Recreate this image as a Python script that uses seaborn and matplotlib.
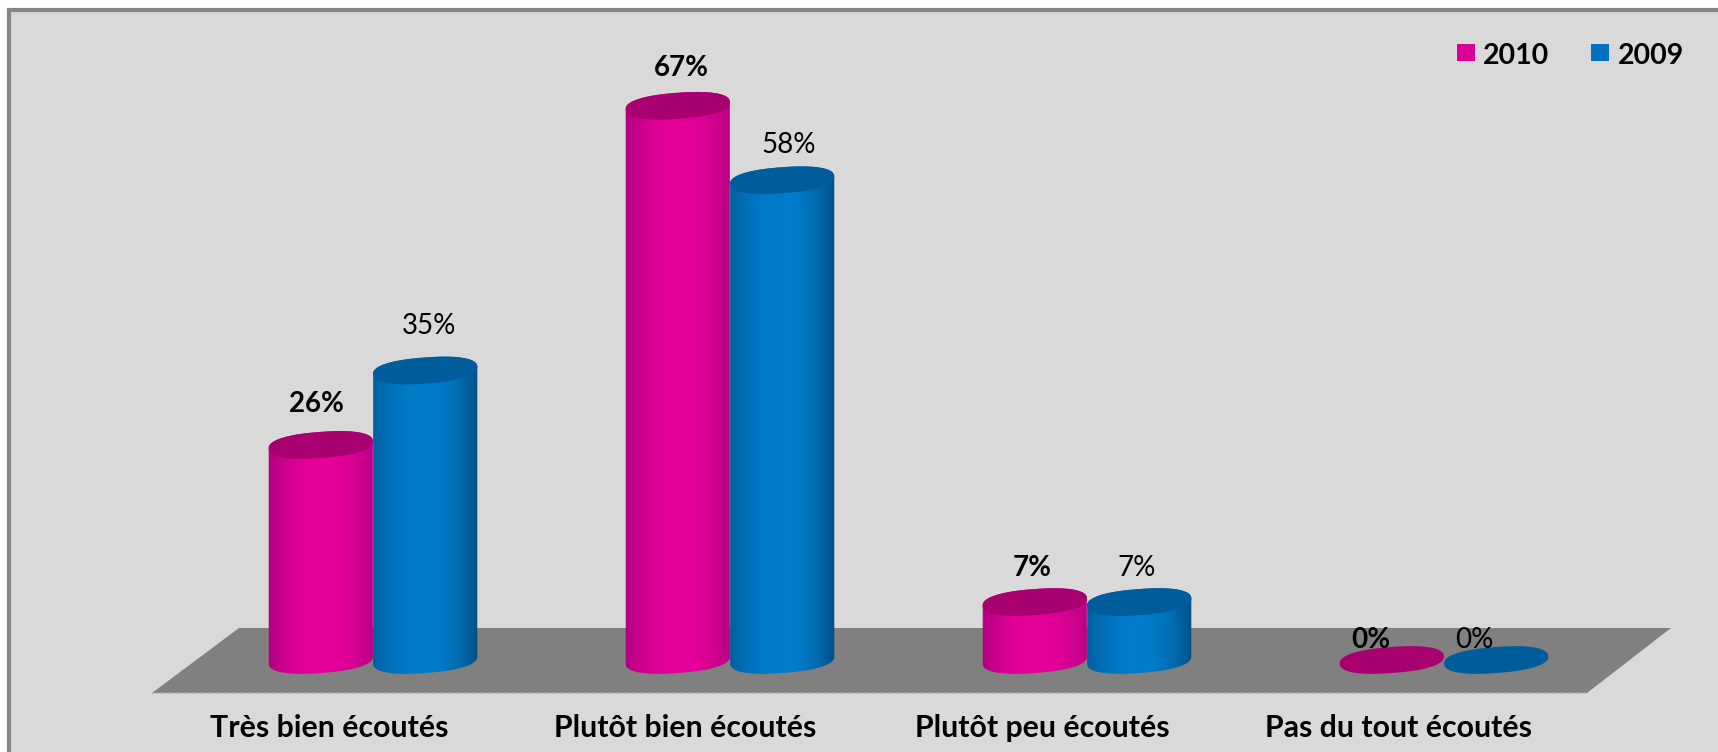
import numpy as np
import pandas as pd
import matplotlib
matplotlib.use("Agg")
import matplotlib.pyplot as plt
from matplotlib.lines import Line2D
from matplotlib.patches import Polygon, Rectangle
from matplotlib.colors import LinearSegmentedColormap
import seaborn as sns

categories = ["Très bien écoutés", "Plutôt bien écoutés", "Plutôt peu écoutés", "Pas du tout écoutés"]
years = ["2010", "2009"]
values_2010 = [26, 67, 7, 0]
values_2009 = [35, 58, 7, 0]

colors = {"2010": "#E6009A", "2009": "#007CCB"}
dark = {"2010": "#A8006F", "2009": "#005C9A"}
edge_left = {"2010": "#B00080", "2009": "#005F9F"}
edge_right = {"2010": "#B80084", "2009": "#004F85"}
legend_colors = {"2010": "#DB0095", "2009": "#0070C0"}
BG = "#D9D9D9"

# label nudges in pixels from the top of each cylinder (dx, dy upward)
nudges_2010 = [(-4, 41), (4, 38), (-3, 34), (-21, 20)]
nudges_2009 = [(4, 44), (6, 35), (-3, 34), (-22, 20)]

W, H = 1718, 752
sns.set_theme(style="white", rc={"figure.facecolor": "white", "axes.facecolor": "none"})
plt.rcParams["font.family"] = ["Lato", "DejaVu Sans"]

df = pd.DataFrame({
    "cat": categories * 2,
    "year": ["2010"] * 4 + ["2009"] * 4,
    "val": values_2010 + values_2009,
})

fig = plt.figure(figsize=(W / 100, H / 100), dpi=100)
fig.add_artist(Rectangle((8.5 / W, -0.05), 1.1, 1.05 - 9.5 / H, transform=fig.transFigure,
                         facecolor=BG, edgecolor="#868686", linewidth=3, zorder=-5))

# axes: category centres every 357 px, 8.27 px per percent
x0, x1 = 194.5, 1622.5
y_base, y_top = 660.0, 81.0
ax = fig.add_axes([x0 / W, 1 - y_base / H, (x1 - x0) / W, (y_base - y_top) / H])
sns.barplot(data=df, x="cat", y="val", hue="year", hue_order=years, order=categories,
            palette=colors, width=0.585, gap=0, ax=ax, legend=False, errorbar=None)
ax.set_xlabel("")
ax.set_ylabel("")
ax.set_yticks([])
ax.set_xticks(range(4))
ax.set_xticklabels([])
ax.tick_params(axis="x", length=0)
sns.despine(ax=ax, left=True, bottom=True)

px_x = 4.0 / (x1 - x0)      # data units per pixel
px_y = 70.0 / (y_base - y_top)


def ell(cx, cy, a, b, th, t):
    c = np.sign(np.cos(t)) * np.abs(np.cos(t)) ** 0.85
    d = np.sign(np.sin(t)) * np.abs(np.sin(t)) ** 0.85
    ex = a * c * np.cos(th) - b * d * np.sin(th)
    ey = a * c * np.sin(th) + b * d * np.cos(th)
    return cx + ex * px_x, cy + ey * px_y


# floor of the 3D chart, with its dotted front edge
floor_px = [(152, 693), (239, 628), (1671, 628), (1587, 693)]
fig.add_artist(Polygon([(x / W, 1 - y / H) for x, y in floor_px], closed=True,
                       transform=fig.transFigure, facecolor="#808080", edgecolor="none", zorder=-4))
fig.add_artist(Line2D([152 / W, 1587 / W], [1 - 693 / H, 1 - 693 / H], transform=fig.transFigure,
                      color="#B0B0B0", linewidth=1.2, linestyle=(0, (1.2, 1.2)), zorder=-3))

TILT = np.deg2rad(4.3)
B = 13.0
bars = []
for cont, yr, vals, nud in zip(ax.containers, years, [values_2010, values_2009], [nudges_2010, nudges_2009]):
    for rect, v, n in zip(cont.patches, vals, nud):
        rect.set_visible(False)
        bars.append((rect, yr, v, n))

z = 2
for rect, yr, v, n in sorted(bars, key=lambda r: r[0].get_x()):
    w = rect.get_width()
    cx = rect.get_x() + w / 2
    a = w / 2 / px_x
    h = rect.get_height()
    if h > 0:
        xb, yb = ell(cx, 0, a, B, TILT, np.linspace(np.pi, 2 * np.pi, 80))
        xt, yt = ell(cx, h, a, B, TILT, np.linspace(0, np.pi, 80))
        poly = Polygon(np.column_stack([np.r_[xb, xt], np.r_[yb, yt]]), closed=True,
                       facecolor="none", edgecolor="none", zorder=z, clip_on=False)
        ax.add_patch(poly)
        s = np.linspace(-1, 1, 128)
        shade = np.abs(s) ** 2.2
        cmap = LinearSegmentedColormap.from_list("c", [edge_left[yr], colors[yr], edge_right[yr]])
        grad = 0.5 + 0.5 * np.sign(s) * shade
        im = ax.imshow(grad[None, :], extent=(cx - w / 2 - 0.002, cx + w / 2 + 0.002, -3, h + 3),
                       aspect="auto", cmap=cmap, zorder=z, vmin=0, vmax=1)
        im.set_clip_box(fig.bbox)
        im.set_clip_path(poly)
    xc, yc = ell(cx, h, a, B, TILT, np.linspace(0, 2 * np.pi, 200))
    ax.add_patch(Polygon(np.column_stack([xc, yc]), closed=True, facecolor=dark[yr],
                         edgecolor="none", zorder=z + 0.1, clip_on=False))
    z += 1
    ax.annotate(f"{v}%", (cx, h), xytext=n, textcoords="offset pixels", ha="center", va="center",
                fontsize=20, fontweight="bold" if yr == "2010" else "normal", color="black", zorder=20)

ax.set_xlim(-0.5, 3.5)
ax.set_ylim(0, 70)

# category labels sit on the front edge of the floor, left of the bars
for i, c in enumerate(categories):
    fig.text((329 + i * 356.5) / W, 1 - 728 / H, c, ha="center", va="center",
             fontsize=21.8, fontweight="bold", color="black")

# legend
for yr, xs, xt in zip(years, [1457, 1591], [1483, 1618]):
    fig.add_artist(Rectangle((xs / W, 1 - 61 / H), 18 / W, 17 / H, transform=fig.transFigure,
                             facecolor=legend_colors[yr], edgecolor="none"))
    fig.text(xt / W, 1 - 56 / H, yr, ha="left", va="center", fontsize=20.5, fontweight="bold", color="black")

fig.savefig("out.png", dpi=100)
